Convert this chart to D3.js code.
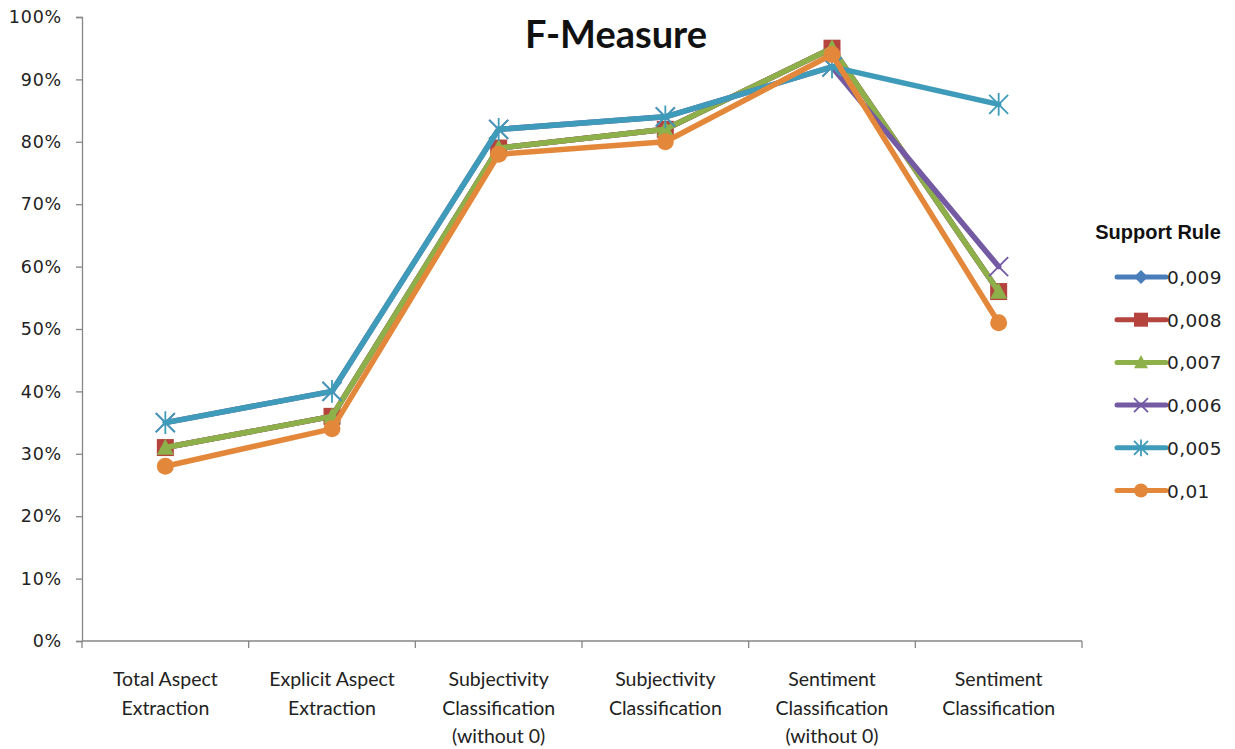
<!DOCTYPE html>
<html>
<head>
<meta charset="utf-8">
<script src="https://cdn.jsdelivr.net/npm/d3@7"></script>
<style>
  html, body { margin: 0; padding: 0; background: #fff; }
  svg { display: block; }
</style>
</head>
<body>
<svg id="chart" width="1235" height="749"></svg>
<script>
// Categories along the x axis (line breaks inside labels)
const categories = [
  "Total Aspect\nExtraction",
  "Explicit Aspect\nExtraction",
  "Subjectivity\nClassification\n(without 0)",
  "Subjectivity\nClassification",
  "Sentiment\nClassification\n(without 0)",
  "Sentiment\nClassification"
];

// F-measure values (%) for each support-rule threshold
const s0009 = [31, 36, 79, 82, 95, 56];
const s0008 = [31, 36, 79, 82, 95, 56];
const s0007 = [31, 36, 79, 82, 95, 56];
const s0006 = [35, 40, 82, 84, 92, 60];
const s0005 = [35, 40, 82, 84, 92, 86];
const s001  = [28, 34, 78, 80, 94, 51];

const seriesNames = ["0,009", "0,008", "0,007", "0,006", "0,005", "0,01"];
const seriesValues = [s0009, s0008, s0007, s0006, s0005, s001];
const seriesColors = ["#4A7EBB", "#B5443F", "#8DB04A", "#7459A3", "#3E9BB9", "#E3883A"];
const seriesMarkers = ["diamond", "square", "triangle", "x", "star", "circle"];

const yTicks = [0, 10, 20, 30, 40, 50, 60, 70, 80, 90, 100];

const svg = d3.select("#chart");
const plotLeft = 82, plotRight = 1082, plotTop = 17, plotBottom = 641;

const x = d3.scaleBand().domain(d3.range(categories.length)).range([plotLeft, plotRight]).padding(0);
const y = d3.scaleLinear().domain([0, 100]).range([plotBottom, plotTop]);
const cx = i => x(i) + x.bandwidth() / 2;

const axisColor = "#868686";
const tickFont = "'DejaVu Sans', Verdana, sans-serif";
const labelFont = "Lato, 'Open Sans', sans-serif";

// Y axis
const yAxis = svg.append("g")
  .attr("transform", `translate(${plotLeft},0)`)
  .call(d3.axisLeft(y).tickValues(yTicks).tickFormat(d => d + "%").tickSize(6).tickPadding(14));
yAxis.select(".domain").attr("stroke", axisColor).attr("stroke-width", 1.3);
yAxis.selectAll(".tick line").attr("stroke", axisColor).attr("stroke-width", 1.3);
yAxis.selectAll(".tick text")
  .attr("font-family", tickFont).attr("font-size", 17.5).attr("letter-spacing", 0.8)
  .attr("fill", "#222");

// X axis with tick marks at the category boundaries
const xAxis = svg.append("g").attr("transform", `translate(0,${plotBottom})`);
xAxis.append("line").attr("x1", plotLeft).attr("x2", plotRight)
  .attr("stroke", axisColor).attr("stroke-width", 1.3);
const bounds = d3.range(categories.length).map(i => x(i)).concat([plotRight]);
xAxis.selectAll("line.tk").data(bounds).join("line").attr("class", "tk")
  .attr("x1", d => d).attr("x2", d => d).attr("y1", 0).attr("y2", 7)
  .attr("stroke", axisColor).attr("stroke-width", 1.3);

const catLabels = xAxis.selectAll("text.cat").data(categories).join("text").attr("class", "cat")
  .attr("text-anchor", "middle")
  .attr("font-family", labelFont).attr("font-size", 19.5).attr("fill", "#222")
  .attr("transform", (d, i) => `translate(${cx(i)},0)`);
catLabels.selectAll("tspan").data(d => d.split("\n")).join("tspan")
  .attr("x", 0).attr("y", (d, j) => 45 + j * 28.5).text(d => d);

// Marker shapes
function drawMarker(g, type, color, s) {
  if (type === "diamond") {
    g.append("path").attr("d", `M0,${-s}L${s},0L0,${s}L${-s},0Z`).attr("fill", color);
  } else if (type === "square") {
    g.append("rect").attr("x", -s).attr("y", -s).attr("width", 2 * s).attr("height", 2 * s).attr("fill", color);
  } else if (type === "triangle") {
    g.append("path").attr("d", `M0,${-s * 1.05}L${s},${s * 0.85}L${-s},${s * 0.85}Z`).attr("fill", color);
  } else if (type === "x") {
    g.append("path").attr("d", `M${-s},${-s}L${s},${s}M${-s},${s}L${s},${-s}`)
      .attr("stroke", color).attr("stroke-width", 1.8).attr("fill", "none");
  } else if (type === "star") {
    g.append("path").attr("d", `M${-s},${-s}L${s},${s}M${-s},${s}L${s},${-s}M0,${-s * 1.2}L0,${s * 1.2}`)
      .attr("stroke", color).attr("stroke-width", 1.8).attr("fill", "none");
  } else if (type === "circle") {
    g.append("circle").attr("r", s).attr("fill", color);
  }
}

// Series lines and markers
const line = d3.line().x((d, i) => cx(i)).y(d => y(d));
seriesValues.forEach((vals, k) => {
  const g = svg.append("g");
  g.append("path").datum(vals).attr("d", line)
    .attr("fill", "none").attr("stroke", seriesColors[k]).attr("stroke-width", 5.5)
    .attr("stroke-linejoin", "round").attr("stroke-linecap", "round");
  vals.forEach((v, i) => {
    const m = g.append("g").attr("transform", `translate(${cx(i)},${y(v)})`);
    drawMarker(m, seriesMarkers[k], seriesColors[k], seriesMarkers[k] === "x" || seriesMarkers[k] === "star" ? 9.5 : 8.5);
  });
});

// Title
svg.append("text").attr("x", 616).attr("y", 48).attr("text-anchor", "middle")
  .attr("font-family", labelFont).attr("font-weight", "bold").attr("font-size", 38)
  .attr("fill", "#111").text("F-Measure");

// Legend
const legend = svg.append("g");
legend.append("text").attr("x", 1158).attr("y", 239).attr("text-anchor", "middle")
  .attr("font-family", "'Liberation Sans', Arial, sans-serif").attr("font-weight", "bold")
  .attr("font-size", 20).attr("fill", "#111").text("Support Rule");
seriesNames.forEach((name, k) => {
  const yy = 277 + k * 42.7;
  const row = legend.append("g").attr("transform", `translate(0,${yy})`);
  row.append("line").attr("x1", 1117).attr("x2", 1166).attr("y1", 0).attr("y2", 0)
    .attr("stroke", seriesColors[k]).attr("stroke-width", 5).attr("stroke-linecap", "round");
  const m = row.append("g").attr("transform", "translate(1141,0)");
  drawMarker(m, seriesMarkers[k], seriesColors[k], 7);
  row.append("text").attr("x", 1167).attr("y", 7)
    .attr("font-family", tickFont).attr("font-size", 18.5).attr("letter-spacing", 0.4)
    .attr("fill", "#222").text(name);
});
</script>
</body>
</html>
